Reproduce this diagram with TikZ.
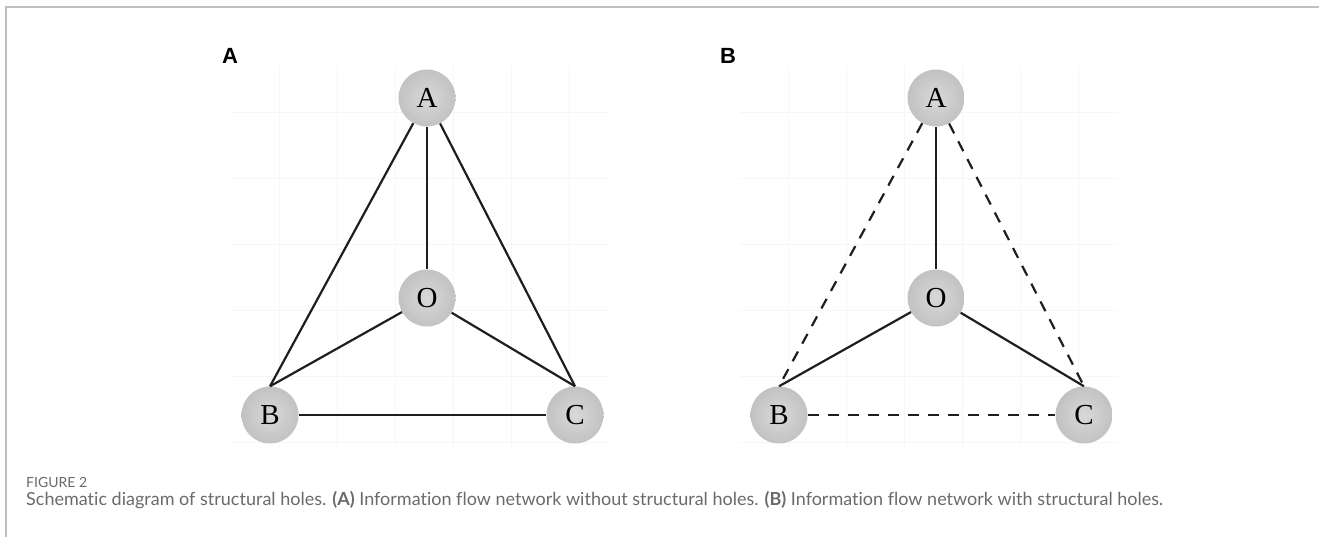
\documentclass[tikz,border=0pt]{standalone}
\usepackage{fontspec}
\setmainfont{Liberation Serif}
\setsansfont{Liberation Sans}
\newfontfamily\capfont[Ligatures=NoCommon]{Lato}
\usetikzlibrary{positioning}
\definecolor{Frame}{HTML}{BFBFBF}
\definecolor{Faint}{HTML}{F6F6F6}
\definecolor{CapGray}{HTML}{6A6A6A}
\definecolor{Edge}{HTML}{1E1E1E}
\tikzset{vertex/.style={circle,minimum size=57pt,inner sep=0pt,inner color=black!15,outer color=black!24,font=\fontsize{29}{29}\selectfont},
link/.style={line width=2.2pt,draw=Edge},
hole/.style={link,dash pattern=on 11pt off 9pt},
panel/.style={font=\sffamily\bfseries\fontsize{22}{22}\selectfont},
captext/.style={anchor=base west,text=CapGray,inner sep=0pt}}

\begin{document}
\begin{tikzpicture}[x=1pt,y=-1pt]
\useasboundingbox (0,0) rectangle (1319,537);
\draw[Frame,line width=2pt] (6,537) -- (6,7) -- (1319,7);
% faint grid behind both networks
\foreach \dx in {0,509} {
  \foreach \gx in {279,337,...,569} \draw[Faint] (\gx+\dx,65) -- (\gx+\dx,450);
  \foreach \gy in {112,178,...,444} \draw[Faint] (231+\dx,\gy) -- (609+\dx,\gy);
}
\node[panel] (pa) at (230,56) {A};
\node[panel] (pb) at (728,56) {B};
% (A) without structural holes
\node[vertex] (a1) at (427,98) {A};
\node[vertex] (o1) at (427,298) {O};
\node[vertex] (b1) at (270,415) {B};
\node[vertex] (c1) at (575,415) {C};
\draw[link] (a1) -- (o1);
\draw[link] (a1) -- (b1.north);
\draw[link] (a1) -- (c1.north);
\draw[link] (o1) -- (b1.north);
\draw[link] (o1) -- (c1.north);
\draw[link] (b1) -- (c1);
% (B) with structural holes
\node[vertex] (a2) at (936,98) {A};
\node[vertex] (o2) at (936,298) {O};
\node[vertex] (b2) at (779,415) {B};
\node[vertex] (c2) at (1084,415) {C};
\draw[link] (a2) -- (o2);
\draw[hole] (a2) -- (b2.north);
\draw[hole] (a2) -- (c2.north);
\draw[link] (o2) -- (b2.north);
\draw[link] (o2) -- (c2.north);
\draw[hole] (b2) -- (c2);
% caption
\node[captext,font=\capfont\fontsize{14}{14}\selectfont] (fig) at (26,487) {FIGURE 2};
\node[captext,font=\capfont\fontsize{18}{18}\selectfont] (cap) at (26,505) {Schematic diagram of structural holes. {\bfseries (A)} Information flow network without structural holes. {\bfseries (B)} Information flow network with structural holes.};
\end{tikzpicture}
\end{document}
